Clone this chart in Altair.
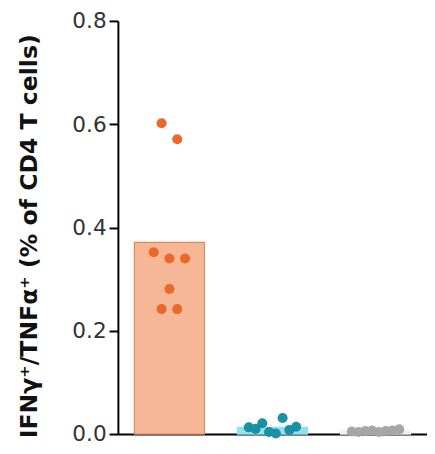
import altair as alt
import pandas as pd

# ---- data ----
groups = ["G1", "G2", "G3"]
orange_vals = [0.602, 0.571, 0.352, 0.340, 0.340, 0.281, 0.242, 0.242]
teal_vals = [0.013, 0.010, 0.021, 0.004, 0.001, 0.031, 0.008, 0.014]
gray_vals = [0.005, 0.004, 0.006, 0.007, 0.004, 0.006, 0.007, 0.009]
y_ticks = [0.0, 0.2, 0.4, 0.6, 0.8]
y_title = "IFNγ⁺/TNFα⁺ (% of CD4 T cells)"

dot_colors = ["#e8692a", "#1a8fa6", "#a6a6a6"]
bar_fills = ["#f6b797", "#8fe3ef", "#f0f0f0"]
bar_strokes = ["#d98a5e", "#8fe3ef", "#f0f0f0"]


def swarm_offsets(values, max_step=0.152, max_span=0.46, gap=0.035):
    n = len(values)
    order = sorted(range(n), key=lambda i: -values[i])
    clusters = []
    prev = None
    for i in order:
        if prev is None or prev - values[i] > gap:
            clusters.append([])
        clusters[-1].append(i)
        prev = values[i]
    offs = [0.0] * n
    for c in clusters:
        c = sorted(c)
        m = len(c)
        step = max_step if m < 2 else min(max_step, max_span / (m - 1))
        for k, i in enumerate(c):
            offs[i] = (k - (m - 1) / 2) * step
    return offs


rows = []
bars = []
for gi, (g, vals) in enumerate(zip(groups, [orange_vals, teal_vals, gray_vals])):
    offs = swarm_offsets(vals)
    for v, o in zip(vals, offs):
        rows.append({"group": g, "value": v, "xpos": gi + o})
    bars.append({"group": g, "mean": sum(vals) / len(vals),
                 "x0": gi - 0.34, "x1": gi + 0.34})

pts = pd.DataFrame(rows)
bdf = pd.DataFrame(bars)

xscale = alt.Scale(domain=[-0.5, 2.5], nice=False, zero=False)
yscale = alt.Scale(domain=[0, 0.8], nice=False)

bar_layer = alt.Chart(bdf).mark_bar(strokeWidth=1.2).encode(
    x=alt.X("x0:Q", scale=xscale,
            axis=alt.Axis(labels=False, ticks=False, title=None, grid=False,
                          domainColor="#000", domainWidth=2)),
    x2="x1:Q",
    y=alt.Y("mean:Q", scale=yscale,
            axis=alt.Axis(values=y_ticks, format=".1f", grid=False,
                          domainColor="#000", domainWidth=2,
                          tickColor="#000", tickWidth=2, tickSize=9,
                          labelFont="DejaVu Sans", labelFontSize=22,
                          labelColor="#333", labelPadding=3,
                          title=y_title, titleFont="DejaVu Sans",
                          titleFontWeight="bold", titleFontSize=24,
                          titleColor="#111", titleAngle=270,
                          titleX=-83, titleY=219, titleAlign="center",
                          titleBaseline="alphabetic")),
    y2=alt.value(421),
    fill=alt.Fill("group:N", scale=alt.Scale(domain=groups, range=bar_fills), legend=None),
    stroke=alt.Stroke("group:N", scale=alt.Scale(domain=groups, range=bar_strokes), legend=None),
)

pt_layer = alt.Chart(pts).mark_circle(size=105, opacity=1).encode(
    x=alt.X("xpos:Q", scale=xscale),
    y=alt.Y("value:Q", scale=yscale),
    color=alt.Color("group:N", scale=alt.Scale(domain=groups, range=dot_colors), legend=None),
)

chart = alt.layer(bar_layer, pt_layer).resolve_scale(
    fill="independent", stroke="independent", color="independent"
).properties(
    width=315, height=421,
    background="white",
    autosize=alt.AutoSizeParams(type="none"),
    padding={"left": 112, "top": 9, "right": 0, "bottom": 8},
).configure_view(strokeWidth=0).configure_axis(grid=False)

chart.save("out.html", embed_options={"renderer": "svg", "actions": False})
